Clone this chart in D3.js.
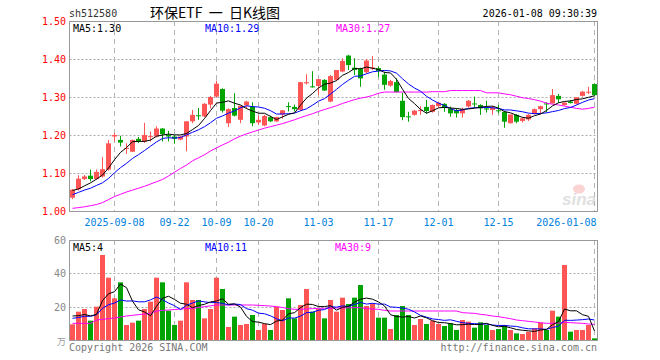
<!DOCTYPE html>
<html lang="zh-CN">
<head>
<meta charset="utf-8">
<title>环保ETF 日K线图</title>
<style>
  html, body { margin: 0; padding: 0; background: #fff; }
  svg { display: block; }
  text { font-family: "DejaVu Sans Mono", monospace; font-size: 10px; }
</style>
</head>
<body>
<div id="kline"></div>
<script src="https://cdn.jsdelivr.net/npm/d3@7"></script>
<script>
// trading days shown (88 candles), only the tick ones get a label
var dates = [
  "2025-08-28","2025-08-29","2025-09-01","2025-09-02","2025-09-03","2025-09-04","2025-09-05",
  "2025-09-08","2025-09-09","2025-09-10","2025-09-11","2025-09-12",
  "2025-09-15","2025-09-16","2025-09-17","2025-09-18","2025-09-19",
  "2025-09-22","2025-09-23","2025-09-24","2025-09-25","2025-09-26","2025-09-29","2025-09-30",
  "2025-10-09","2025-10-10","2025-10-13","2025-10-14","2025-10-15","2025-10-16","2025-10-17",
  "2025-10-20","2025-10-21","2025-10-22","2025-10-23","2025-10-24",
  "2025-10-27","2025-10-28","2025-10-29","2025-10-30","2025-10-31",
  "2025-11-03","2025-11-04","2025-11-05","2025-11-06","2025-11-07",
  "2025-11-10","2025-11-11","2025-11-12","2025-11-13","2025-11-14",
  "2025-11-17","2025-11-18","2025-11-19","2025-11-20","2025-11-21",
  "2025-11-24","2025-11-25","2025-11-26","2025-11-27","2025-11-28",
  "2025-12-01","2025-12-02","2025-12-03","2025-12-04","2025-12-05",
  "2025-12-08","2025-12-09","2025-12-10","2025-12-11","2025-12-12",
  "2025-12-15","2025-12-16","2025-12-17","2025-12-18","2025-12-19",
  "2025-12-22","2025-12-23","2025-12-24","2025-12-25","2025-12-26",
  "2025-12-29","2025-12-30","2025-12-31",
  "2026-01-05","2026-01-06","2026-01-07","2026-01-08"
];
var tickDates = ["2025-09-08","2025-09-22","2025-10-09","2025-10-20","2025-11-03",
                 "2025-11-17","2025-12-01","2025-12-15","2026-01-08"];
var tickLabels = ["2025-09-08","09-22","10-09","10-20","11-03","11-17","12-01","12-15","2026-01-08"];

var open = [1.035,1.057,1.084,1.093,1.084,1.091,1.109,1.196,1.187,1.164,1.156,1.190,1.183,1.195,1.196,1.217,1.200,1.196,1.188,1.196,
  1.236,1.252,1.249,1.280,1.301,1.321,1.231,1.271,1.240,1.278,1.275,1.233,1.225,1.247,1.236,1.254,1.276,1.274,1.266,1.336,
  1.328,1.329,1.345,1.288,1.345,1.367,1.409,1.377,1.375,1.365,1.376,1.376,1.359,1.330,1.339,1.290,1.249,1.253,1.263,1.274,
  1.261,1.276,1.282,1.270,1.266,1.257,1.275,1.283,1.279,1.270,1.266,1.265,1.261,1.231,1.253,1.237,1.241,1.255,1.268,1.283,
  1.283,1.303,1.279,1.288,1.282,1.303,1.313,1.334];
var high = [1.058,1.094,1.095,1.109,1.109,1.142,1.187,1.205,1.198,1.178,1.188,1.195,1.232,1.209,1.223,1.218,1.211,1.200,1.198,1.236,
  1.266,1.271,1.284,1.303,1.343,1.323,1.270,1.310,1.277,1.290,1.286,1.251,1.253,1.251,1.248,1.266,1.286,1.280,1.340,1.360,
  1.368,1.347,1.347,1.358,1.371,1.402,1.411,1.402,1.377,1.400,1.408,1.380,1.367,1.345,1.349,1.311,1.261,1.266,1.276,1.292,
  1.280,1.288,1.284,1.275,1.270,1.272,1.292,1.301,1.281,1.290,1.276,1.279,1.264,1.254,1.255,1.247,1.255,1.270,1.277,1.286,
  1.321,1.308,1.288,1.292,1.299,1.316,1.327,1.336];
var low = [1.031,1.054,1.082,1.078,1.082,1.088,1.106,1.183,1.170,1.150,1.155,1.179,1.179,1.183,1.194,1.183,1.183,1.177,1.186,1.157,
  1.231,1.240,1.247,1.270,1.299,1.259,1.221,1.249,1.231,1.270,1.223,1.227,1.223,1.234,1.234,1.243,1.262,1.262,1.263,1.333,
  1.325,1.305,1.316,1.286,1.342,1.365,1.371,1.358,1.327,1.362,1.371,1.352,1.319,1.327,1.312,1.239,1.235,1.251,1.253,1.256,
  1.259,1.272,1.261,1.248,1.246,1.246,1.272,1.272,1.253,1.259,1.253,1.257,1.219,1.230,1.231,1.233,1.237,1.254,1.254,1.259,
  1.283,1.285,1.277,1.283,1.280,1.301,1.308,1.303];
var close = [1.056,1.085,1.091,1.084,1.103,1.110,1.178,1.200,1.180,1.166,1.187,1.183,1.200,1.197,1.217,1.202,1.196,1.190,1.196,1.236,
  1.253,1.250,1.282,1.300,1.335,1.264,1.268,1.251,1.277,1.288,1.231,1.240,1.250,1.236,1.247,1.265,1.274,1.268,1.339,1.339,
  1.326,1.347,1.317,1.355,1.371,1.395,1.384,1.371,1.349,1.396,1.378,1.368,1.332,1.342,1.313,1.247,1.247,1.264,1.266,1.263,
  1.279,1.285,1.271,1.257,1.257,1.268,1.290,1.281,1.270,1.267,1.272,1.264,1.235,1.254,1.235,1.244,1.253,1.268,1.276,1.281,
  1.305,1.294,1.285,1.284,1.299,1.314,1.314,1.305];
// volume in 万
var volume = [9.4,17.0,18.6,11.6,20.0,51.0,37.4,25.0,34.6,9.0,10.4,11.6,18.6,23.0,37.4,34.6,17.6,9.0,11.6,34.6,
  24.0,24.0,13.0,18.6,37.4,30.6,7.8,14.0,9.0,9.6,15.0,6.0,9.6,6.0,20.0,18.0,25.0,13.0,21.0,30.6,
  17.0,18.6,13.0,24.0,17.0,25.4,21.6,25.4,33.0,20.4,22.0,13.4,13.4,6.6,15.0,20.4,15.0,9.0,12.6,9.6,
  11.6,9.6,8.4,10.0,6.0,12.0,11.0,7.4,10.6,9.0,6.0,6.6,9.0,6.0,4.0,3.6,5.0,7.0,10.4,6.0,
  17.6,14.0,45.0,5.0,6.0,6.0,9.0,1.0];

// closes / volumes just before the window, estimated from where MA5 and MA10 start
var prevClose = [1.025,1.030,1.035,1.030,1.040,1.065,1.050,1.045,1.054];
var prevVolume = [12,11,12,11,12,16,15,16,15.6];

// MA30 needs a month of history that is not on the picture, so it is read off the line
var ma30 = [1.007,1.009,1.011,1.014,1.017,1.022,1.030,1.038,1.044,1.050,1.055,1.060,1.065,1.071,1.077,1.083,1.092,1.102,1.112,1.121,
  1.132,1.140,1.148,1.158,1.166,1.174,1.181,1.190,1.197,1.203,1.208,1.213,1.218,1.222,1.226,1.230,1.235,1.240,1.246,1.251,
  1.256,1.262,1.267,1.272,1.277,1.283,1.288,1.293,1.297,1.300,1.304,1.310,1.313,1.313,1.313,1.313,1.313,1.313,1.313,1.313,
  1.314,1.314,1.314,1.317,1.317,1.317,1.317,1.317,1.317,1.311,1.311,1.311,1.308,1.306,1.302,1.298,1.296,1.293,1.289,1.284,
  1.281,1.279,1.276,1.273,1.270,1.268,1.270,1.273];
var volMa30 = [10.0,10.0,10.0,10.0,12.0,12.4,12.8,13.2,13.8,14.4,14.8,15.2,15.6,16.0,17.4,17.8,18.0,18.3,18.6,18.8,
  19.0,19.5,20.0,20.5,21.0,21.0,21.0,21.0,21.0,21.0,21.0,20.8,20.6,20.4,20.0,19.5,18.8,18.4,18.4,18.6,
  18.8,19.0,19.0,19.0,19.2,19.2,19.3,19.4,19.4,18.8,18.6,18.4,17.8,17.4,17.4,17.4,17.4,17.4,17.4,17.4,
  17.4,17.4,17.4,17.4,17.4,16.4,16.2,16.0,15.4,15.0,14.4,14.0,13.4,12.8,12.0,11.6,11.2,10.8,10.4,10.0,
  10.0,10.2,10.6,10.4,10.2,10.0,9.6,9.4];

var priceTicks = [1.00,1.10,1.20,1.30,1.40,1.50];
var volTicks = [20,40,60];

var red = "#ff5555", green = "#00a400";

// simple moving average, using the earlier values to fill the start
function movingAvg(values, prev, n) {
    var all = prev.concat(values);
    return values.map(function(v, i) {
        var k = i + prev.length;
        return d3.mean(all.slice(k - n + 1, k + 1));
    });
}
var ma5 = movingAvg(close, prevClose, 5);
var ma10 = movingAvg(close, prevClose, 10);
var volMa5 = movingAvg(volume, prevVolume, 5);
var volMa10 = movingAvg(volume, prevVolume, 10);

var W = 660, H = 360;
var left = 69.5, right = 597.5;
var pTop = 21, pBottom = 211;   // price panel
var vTop = 240, vBottom = 340;  // volume panel

var svg = d3.select("#kline").append("svg")
    .attr("width", W).attr("height", H);

svg.append("rect").attr("width", W).attr("height", H).attr("fill", "#fff");

// scales
var x = d3.scaleLinear().domain([0, dates.length - 1]).range([72.5, 72.5 + 6 * (dates.length - 1)]);
var y = d3.scaleLinear().domain([1.0, 1.5]).range([pBottom, pTop]);
var vy = d3.scaleLinear().domain([0, 60]).range([vBottom, vTop]);

// horizontal dotted grid
svg.append("g").selectAll("line")
    .data(priceTicks.slice(1, -1))
  .enter().append("line")
    .attr("x1", left).attr("x2", right)
    .attr("y1", function(d) { return Math.round(y(d)) + 0.5; })
    .attr("y2", function(d) { return Math.round(y(d)) + 0.5; })
    .attr("stroke", "#aaa").attr("stroke-dasharray", "2,2");

svg.append("g").selectAll("line")
    .data(volTicks.slice(0, -1))
  .enter().append("line")
    .attr("x1", left).attr("x2", right)
    .attr("y1", function(d) { return Math.round(vy(d)) + 0.5; })
    .attr("y2", function(d) { return Math.round(vy(d)) + 0.5; })
    .attr("stroke", "#aaa").attr("stroke-dasharray", "2,2");

// vertical dashed date lines through both panels
var tickIdx = tickDates.map(function(d) { return dates.indexOf(d); });
[[pTop, pBottom], [vTop, vBottom]].forEach(function(r) {
    svg.append("g").selectAll("line")
        .data(tickIdx)
      .enter().append("line")
        .attr("x1", function(i) { return x(i); })
        .attr("x2", function(i) { return x(i); })
        .attr("y1", r[0]).attr("y2", r[1])
        .attr("stroke", "#b4b4b4").attr("stroke-dasharray", "5,4");
});

// sina watermark
var wm = svg.append("g").attr("opacity", 0.45);
wm.append("ellipse").attr("cx", 579).attr("cy", 189).attr("rx", 6).attr("ry", 4.5)
    .attr("fill", "#f4a0a0");
wm.append("text").attr("x", 562).attr("y", 205)
    .style("font-family", "Liberation Sans, sans-serif").style("font-size", "17px")
    .style("font-style", "italic").style("font-weight", "bold")
    .attr("fill", "#bbb").text("sina");

// candles
var candles = svg.append("g").selectAll("g")
    .data(dates.map(function(d, i) { return i; }))
  .enter().append("g")
    .attr("fill", function(i) { return close[i] >= open[i] ? red : green; })
    .attr("stroke", function(i) { return close[i] >= open[i] ? red : green; });

candles.append("line")
    .attr("x1", function(i) { return x(i); })
    .attr("x2", function(i) { return x(i); })
    .attr("y1", function(i) { return y(high[i]); })
    .attr("y2", function(i) { return y(low[i]); });

candles.append("rect")
    .attr("stroke", "none")
    .attr("x", function(i) { return x(i) - 2.5; })
    .attr("width", 5)
    .attr("y", function(i) { return y(Math.max(open[i], close[i])); })
    .attr("height", function(i) { return Math.max(1, Math.abs(y(open[i]) - y(close[i]))); });

// volume bars
svg.append("g").selectAll("rect")
    .data(volume)
  .enter().append("rect")
    .attr("x", function(d, i) { return x(i) - 2.5; })
    .attr("width", 5)
    .attr("y", function(d) { return vy(d); })
    .attr("height", function(d) { return vBottom - vy(d); })
    .attr("fill", function(d, i) { return close[i] >= open[i] ? red : green; });

// moving average lines
var priceLine = d3.line().x(function(d, i) { return x(i); }).y(function(d) { return y(d); });
var volLine = d3.line().x(function(d, i) { return x(i); }).y(function(d) { return vy(d); });

[[ma30, "#ff00ff"], [ma10, "#0000ff"], [ma5, "#000"]].forEach(function(s) {
    svg.append("path").attr("d", priceLine(s[0]))
        .attr("fill", "none").attr("stroke", s[1]).attr("stroke-width", 1);
});
[[volMa30, "#ff00ff"], [volMa10, "#0000ff"], [volMa5, "#000"]].forEach(function(s) {
    svg.append("path").attr("d", volLine(s[0]))
        .attr("fill", "none").attr("stroke", s[1]).attr("stroke-width", 1);
});

// panel borders
[[pTop, pBottom], [vTop, vBottom]].forEach(function(r) {
    svg.append("rect")
        .attr("x", left).attr("y", r[0] + 0.5)
        .attr("width", right - left).attr("height", r[1] - r[0])
        .attr("fill", "none").attr("stroke", "#999");
});

// price axis labels
svg.append("g").selectAll("text")
    .data(priceTicks)
  .enter().append("text")
    .attr("x", 66).attr("y", function(d) { return y(d) + 4; })
    .attr("text-anchor", "end").attr("fill", "#f00")
    .text(function(d) { return d.toFixed(2); });

// volume axis labels
svg.append("g").selectAll("text")
    .data(volTicks)
  .enter().append("text")
    .attr("x", 66).attr("y", function(d) { return vy(d) + 4; })
    .attr("text-anchor", "end").attr("fill", "#888")
    .text(function(d) { return d; });
svg.append("text").attr("x", 66).attr("y", 345).attr("text-anchor", "end")
    .attr("fill", "#999").style("font-family", "Noto Sans CJK SC").style("font-size", "9px")
    .text("万");

// date labels
svg.append("g").selectAll("text")
    .data(tickIdx)
  .enter().append("text")
    .attr("x", function(i, k) { return k === tickIdx.length - 1 ? x(i) + 2 : x(i); })
    .attr("y", 226)
    .attr("text-anchor", function(i, k) { return k === tickIdx.length - 1 ? "end" : "middle"; })
    .attr("fill", "#0080dd")
    .text(function(i, k) { return tickLabels[k]; });

// header
svg.append("text").attr("x", 69).attr("y", 17).attr("fill", "#333").text("sh512580");
svg.append("text").attr("x", 150).attr("y", 18)
    .style("font-family", "Noto Sans CJK SC").style("font-size", "14px")
    .style("white-space", "pre")
    .attr("fill", "#000").text("环保ETF  一  日K线图");
svg.append("text").attr("x", 597).attr("y", 17).attr("text-anchor", "end")
    .attr("fill", "#000").text("2026-01-08 09:30:39");

// legends
var legends = [
    [73, 32, "#000", "MA5:1.30"], [205, 32, "#0000ff", "MA10:1.29"], [336, 32, "#ff00ff", "MA30:1.27"],
    [73, 251, "#000", "MA5:4"], [205, 251, "#0000ff", "MA10:11"], [335, 251, "#ff00ff", "MA30:9"]
];
svg.append("g").selectAll("text")
    .data(legends)
  .enter().append("text")
    .attr("x", function(d) { return d[0]; })
    .attr("y", function(d) { return d[1]; })
    .attr("fill", function(d) { return d[2]; })
    .text(function(d) { return d[3]; });

// footer
svg.append("text").attr("x", 69).attr("y", 351).attr("fill", "#777").text("Copyright 2026 SINA.COM");
svg.append("text").attr("x", 597).attr("y", 351).attr("text-anchor", "end")
    .attr("fill", "#777").text("http://finance.sina.com.cn");
</script>
</body>
</html>
